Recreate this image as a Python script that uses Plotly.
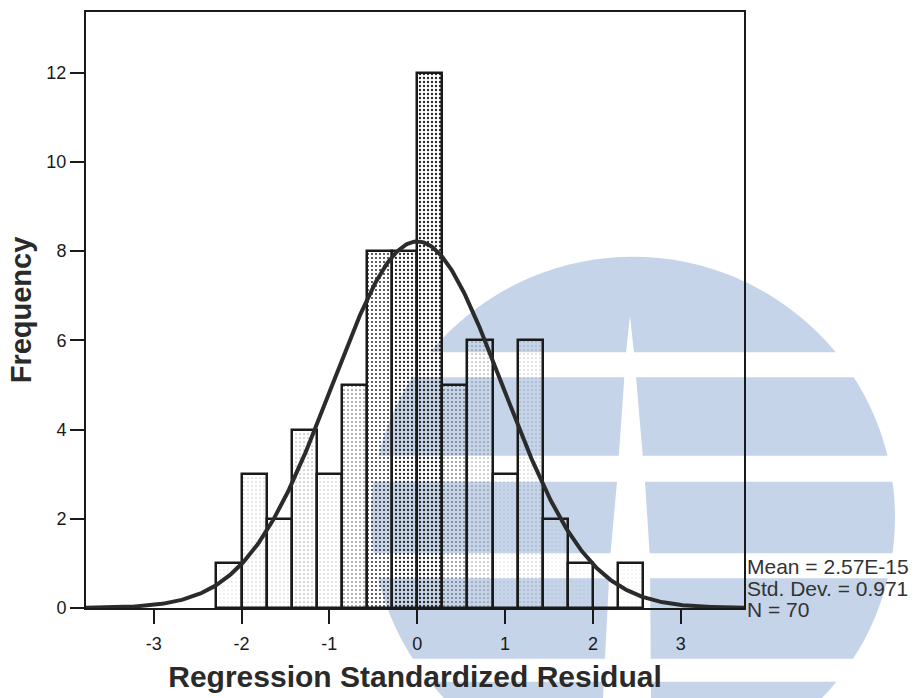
import numpy as np
import plotly.graph_objects as go

# Histogram of regression standardized residuals (bin width 2/7)
bin_width = 2 / 7
bin_start = -8 * bin_width
counts = [1, 3, 2, 4, 3, 5, 8, 8, 12, 5, 6, 3, 6, 2, 1, 0, 1]
stipple = [0.02, 0.03, 0.03, 0.05, 0.04, 0.09, 0.2, 0.26, 0.28, 0.12, 0.06, 0.02, 0.04, 0.015, 0.01, 0.0, 0.01]

mean_val = 2.57e-15
std_val = 0.971
n_val = 70
stats = ["Mean = 2.57E-15", f"Std. Dev. = {std_val}", f"N = {n_val}"]

y_ticks = [0, 2, 4, 6, 8, 10, 12]
x_ticks = [-3, -2, -1, 0, 1, 2, 3]
x_range = [-3.77, 3.72]
y_range = [0, 13.36]

centers = [bin_start + (i + 0.5) * bin_width for i in range(len(counts))]

# Fitted normal curve scaled to the histogram
xc = np.linspace(x_range[0], x_range[1], 400)
yc = n_val * bin_width / (std_val * np.sqrt(2 * np.pi)) * np.exp(-0.5 * ((xc - mean_val) / std_val) ** 2)

W, H = 918, 698
ML, MR, MT, MB = 86, 174, 10, 89
PW, PH = W - ML - MR, H - MT - MB


def px(x):
    return (x - ML) / PW


def py(y):
    return (H - MB - y) / PH


fig = go.Figure()
fig.add_trace(go.Bar(
    x=centers, y=counts, width=bin_width,
    marker=dict(
        color="rgba(0,0,0,0)",
        line=dict(color="#1a1a1a", width=2.5),
        pattern=dict(shape=".", size=4, solidity=stipple,
                     fgcolor="#2a2a2a", bgcolor="rgba(0,0,0,0)", fillmode="replace"),
    ),
    showlegend=False, hoverinfo="skip",
))
fig.add_trace(go.Scatter(
    x=xc, y=yc, mode="lines", line=dict(color="#2b2b2b", width=4),
    showlegend=False, hoverinfo="skip",
))

# Background emblem: light blue disc cut by white stripes
shapes = []
shapes.append(dict(type="circle", xref="paper", yref="paper", layer="below",
                   x0=px(371), x1=px(895), y0=py(256), y1=py(780),
                   fillcolor="rgb(197,212,232)", line=dict(width=0)))
for top, bot in [(352, 377), (456, 482), (554, 579), (660, 683)]:
    shapes.append(dict(type="rect", xref="paper", yref="paper", layer="below",
                       x0=px(350), x1=px(915), y0=py(bot), y1=py(top),
                       fillcolor="white", line=dict(width=0)))
wedge = [(630, 315), (634, 353), (645, 482), (650, 560), (651, 700),
         (603, 700), (610, 560), (617, 482), (626, 353)]
path = "M " + " L ".join(f"{px(a):.5f},{py(b):.5f}" for a, b in wedge) + " Z"
shapes.append(dict(type="path", xref="paper", yref="paper", layer="below",
                   path=path, fillcolor="white", line=dict(width=0)))

fig.update_layout(
    width=W, height=H,
    margin=dict(l=ML, r=MR, t=MT, b=MB),
    paper_bgcolor="white", plot_bgcolor="rgba(0,0,0,0)",
    font=dict(family="Liberation Sans, Arial", color="#1a1a1a"),
    bargap=0, shapes=shapes,
    xaxis=dict(range=x_range, tickvals=x_ticks, ticktext=[str(v) for v in x_ticks],
               showgrid=False, zeroline=False, showline=True, mirror=True,
               linecolor="#1a1a1a", linewidth=2, ticks="outside", ticklen=14,
               tickwidth=2, tickcolor="#1a1a1a", tickfont=dict(size=18),
               ticklabelstandoff=4,
               title=dict(text="<b>Regression Standardized Residual</b>",
                          font=dict(size=30, color="#2a2a2a"), standoff=13)),
    yaxis=dict(range=y_range, tickvals=y_ticks, ticktext=[str(v) for v in y_ticks],
               showgrid=False, zeroline=False, showline=True, mirror=True,
               linecolor="#1a1a1a", linewidth=2, ticks="outside", ticklen=14,
               tickwidth=2, tickcolor="#1a1a1a", tickfont=dict(size=18),
               title=dict(text="<b>Frequency</b>",
                          font=dict(size=29, color="#2a2a2a"), standoff=6)),
)

for i, s in enumerate(stats):
    fig.add_annotation(text=s, xref="paper", yref="paper", x=px(745), y=py(567 + 22 * i),
                       xanchor="left", yanchor="middle", showarrow=False,
                       font=dict(size=21, color="#333333"))

fig.write_html("out.html")
